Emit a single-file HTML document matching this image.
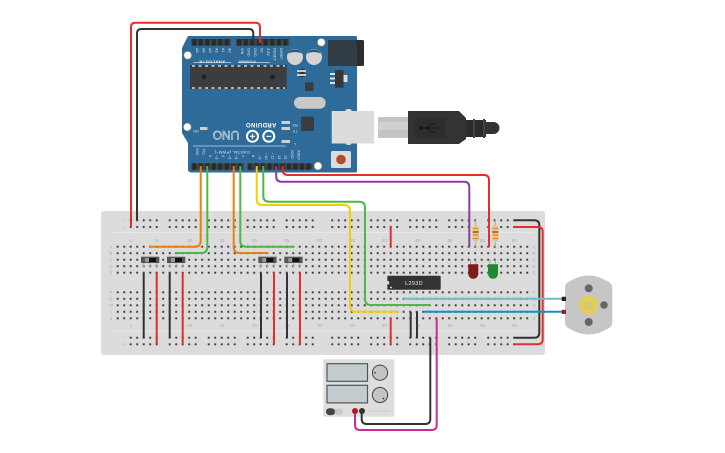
<!DOCTYPE html>
<html><head><meta charset="utf-8"><style>
html,body{margin:0;padding:0;background:#fff}
svg{display:block;filter:blur(.35px)}
text{font-family:"Liberation Sans",sans-serif}
.w{fill:none;stroke-width:2;stroke-linecap:butt;stroke-linejoin:round}
</style></head><body>
<svg width="725" height="453" viewBox="0 0 725 453" xmlns="http://www.w3.org/2000/svg">
<defs>
<pattern id="h" patternUnits="userSpaceOnUse" x="114.45" y="243.45" width="6.5" height="6.5">
<rect x="2.05" y="2.05" width="2.4" height="2.4" fill="#f0f0f0"/><rect x="2.25" y="2.25" width="2" height="2" fill="#3c3c3c"/>
</pattern>
<pattern id="h2" patternUnits="userSpaceOnUse" x="114.45" y="289.05" width="6.5" height="6.5">
<rect x="2.05" y="2.05" width="2.4" height="2.4" fill="#f0f0f0"/><rect x="2.25" y="2.25" width="2" height="2" fill="#3c3c3c"/>
</pattern>
<pattern id="r1" patternUnits="userSpaceOnUse" x="127.45" y="217.05" width="6.5" height="6.7">
<rect x="2.05" y="2.05" width="2.4" height="2.4" fill="#f0f0f0"/><rect x="2.25" y="2.25" width="2" height="2" fill="#3c3c3c"/>
</pattern>
<pattern id="r2" patternUnits="userSpaceOnUse" x="127.45" y="334.45" width="6.5" height="6.6">
<rect x="2.05" y="2.05" width="2.4" height="2.4" fill="#f0f0f0"/><rect x="2.25" y="2.25" width="2" height="2" fill="#3c3c3c"/>
</pattern>
<pattern id="pin" patternUnits="userSpaceOnUse" x="191.05" y="0" width="6.5" height="10">
<rect width="6.5" height="10" fill="#444"/><rect x="1.2" width="4.1" height="10" fill="#2a2a2a"/>
</pattern>
<pattern id="pin2" patternUnits="userSpaceOnUse" x="246.75" y="0" width="6.5" height="10">
<rect width="6.5" height="10" fill="#444"/><rect x="1.2" width="4.1" height="10" fill="#2a2a2a"/>
</pattern>
<pattern id="pin3" patternUnits="userSpaceOnUse" x="236" y="0" width="6.6" height="10">
<rect width="6.6" height="10" fill="#444"/><rect x="1.2" width="4.1" height="10" fill="#2a2a2a"/>
</pattern>
</defs>

<!-- Breadboard -->
<rect x="101" y="211" width="444" height="144" rx="3" fill="#dcdcdc"/>
<path d="M113 232.5H533M113 331H533" stroke="#e6e6e6" stroke-width="1"/>
<rect x="114.5" y="243.5" width="416" height="32.5" fill="url(#h)"/>
<rect x="114.5" y="289" width="416" height="32.5" fill="url(#h2)"/>
<g>
<rect x="127.5" y="217" width="32.5" height="13.4" fill="url(#r1)"/>
<rect x="166.5" y="217" width="32.5" height="13.4" fill="url(#r1)"/>
<rect x="205.5" y="217" width="32.5" height="13.4" fill="url(#r1)"/>
<rect x="244.5" y="217" width="32.5" height="13.4" fill="url(#r1)"/>
<rect x="283.5" y="217" width="32.5" height="13.4" fill="url(#r1)"/>
<rect x="329" y="217" width="32.5" height="13.4" fill="url(#r1)"/>
<rect x="368" y="217" width="32.5" height="13.4" fill="url(#r1)"/>
<rect x="407" y="217" width="32.5" height="13.4" fill="url(#r1)"/>
<rect x="446" y="217" width="32.5" height="13.4" fill="url(#r1)"/>
<rect x="485" y="217" width="32.5" height="13.4" fill="url(#r1)"/>
<rect x="127.5" y="334.5" width="32.5" height="13.2" fill="url(#r2)"/>
<rect x="166.5" y="334.5" width="32.5" height="13.2" fill="url(#r2)"/>
<rect x="205.5" y="334.5" width="32.5" height="13.2" fill="url(#r2)"/>
<rect x="244.5" y="334.5" width="32.5" height="13.2" fill="url(#r2)"/>
<rect x="283.5" y="334.5" width="32.5" height="13.2" fill="url(#r2)"/>
<rect x="329" y="334.5" width="32.5" height="13.2" fill="url(#r2)"/>
<rect x="368" y="334.5" width="32.5" height="13.2" fill="url(#r2)"/>
<rect x="407" y="334.5" width="32.5" height="13.2" fill="url(#r2)"/>
<rect x="446" y="334.5" width="32.5" height="13.2" fill="url(#r2)"/>
<rect x="485" y="334.5" width="32.5" height="13.2" fill="url(#r2)"/>
</g>
<g font-size="4.5" fill="#aaa" text-anchor="middle">
<text x="130.7" y="242">1</text><text x="157" y="242">5</text><text x="189.7" y="242">10</text><text x="222" y="242">15</text><text x="254.5" y="242">20</text><text x="287" y="242">25</text><text x="319.5" y="242">30</text><text x="352.5" y="242">35</text><text x="384.5" y="242">40</text><text x="417.5" y="242">45</text><text x="450" y="242">50</text><text x="482.5" y="242">55</text><text x="514.5" y="242">60</text>
<text x="130.7" y="327">1</text><text x="157" y="327">5</text><text x="189.7" y="327">10</text><text x="222" y="327">15</text><text x="254.5" y="327">20</text><text x="287" y="327">25</text><text x="319.5" y="327">30</text><text x="352.5" y="327">35</text><text x="384.5" y="327">40</text><text x="417.5" y="327">45</text><text x="450" y="327">50</text><text x="482.5" y="327">55</text><text x="514.5" y="327">60</text>
<text x="111" y="248.5">A</text><text x="111" y="255">B</text><text x="111" y="261.5">C</text><text x="111" y="268">D</text><text x="111" y="274.5">E</text>
<text x="111" y="294">F</text><text x="111" y="300.5">G</text><text x="111" y="307">H</text><text x="111" y="313.5">I</text><text x="111" y="320">J</text>
<text x="534" y="248.5">A</text><text x="534" y="255">B</text><text x="534" y="261.5">C</text><text x="534" y="268">D</text><text x="534" y="274.5">E</text>
<text x="534" y="294">F</text><text x="534" y="300.5">G</text><text x="534" y="307">H</text><text x="534" y="313.5">I</text><text x="534" y="320">J</text>
</g>
<g font-size="7" text-anchor="middle">
<text x="123.3" y="223" fill="#a9c6dc">−</text><text x="123.3" y="230" fill="#eba9a5">+</text>
<text x="123.3" y="340" fill="#a9c6dc">−</text><text x="123.3" y="347" fill="#eba9a5">+</text>
</g>

<!-- Arduino -->
<path d="M188 36H355.5a1.5 1.5 0 0 1 1.5 1.5V171a1.5 1.5 0 0 1-1.5 1.5H191a3 3 0 0 1-3-3V143l-6-10V48Z" fill="#2f6b99"/>
<rect x="191.3" y="39" width="39.4" height="6.7" fill="url(#pin)"/>
<rect x="236" y="39" width="53.3" height="6.7" fill="url(#pin3)"/>
<rect x="191.3" y="163.3" width="52.7" height="6.5" fill="url(#pin)"/>
<rect x="247.3" y="163.3" width="65.4" height="6.5" fill="url(#pin2)"/>
<g fill="#fff">
<circle cx="187.7" cy="55.3" r="3.8" stroke="#b9a878" stroke-width=".6"/><circle cx="321.3" cy="42.3" r="3.8" stroke="#b9a878" stroke-width=".6"/>
<circle cx="187.3" cy="127" r="3.8" stroke="#b9a878" stroke-width=".6"/><circle cx="318" cy="166" r="3.8" stroke="#b9a878" stroke-width=".6"/>
</g>
<!-- chip -->
<rect x="190" y="65" width="96.7" height="24" fill="#3b3d40"/>
<path d="M192 66H285M192 88H285" stroke="#d8d8d8" stroke-width="1.4" stroke-dasharray="3 3.5"/>
<circle cx="204" cy="77" r="2.5" fill="#222"/><circle cx="272.5" cy="77" r="2.5" fill="#222"/>
<!-- caps -->
<circle cx="295" cy="57" r="8" fill="#d4d4d4"/><path d="M288 53.500a8 8 0 0 1 14 0q-7 -3 -14 0Z" fill="#24567f"/>
<circle cx="314" cy="57" r="8" fill="#d4d4d4"/><path d="M307 53.500a8 8 0 0 1 14 0q-7 -3 -14 0Z" fill="#24567f"/>
<!-- jack -->
<rect x="328" y="40" width="36" height="26" rx="1.5" fill="#2b2d2f"/>
<rect x="328" y="40" width="29" height="26" rx="3" fill="#323c44"/>
<!-- regulator etc -->
<rect x="335" y="70" width="8.5" height="17.7" fill="#353739"/>
<path d="M330 73h5v2h-5ZM330 77.500h5v2h-5ZM330 82h5v2h-5Z" fill="#ddd"/>
<rect x="343.500" y="75" width="4" height="7" fill="#ddd"/>
<rect x="299.500" y="69" width="5" height="8" fill="#333"/><path d="M297 70h9v2h-9ZM297 74h9v2h-9Z" fill="#ccc"/>
<rect x="305" y="82.300" width="8.600" height="8.700" rx="1" fill="#3a3d40"/>
<rect x="294" y="97" width="31.700" height="11.700" rx="5.800" fill="#c9c9c9"/>
<rect x="301" y="116.700" width="13" height="14.300" rx="1" fill="#3a3d40"/>
<path d="M281.500 121h8.500v3h-8.500ZM281.500 127h8.500v3h-8.500ZM281.500 140h8.500v3h-8.500Z" fill="#d0d0d0"/>
<path d="M200 127h7.500v3H200Z" fill="#d0d0d0"/>
<text x="0" y="0" font-size="3.500" fill="#e4ecf2" text-anchor="middle" transform="translate(196,130) rotate(180)">ON</text>
<g font-size="3.500" fill="#e4ecf2" text-anchor="middle">
<text transform="translate(295,124) rotate(180)">RX</text><text transform="translate(295,130) rotate(180)">TX</text><text transform="translate(295,143) rotate(180)">L</text>
</g>
<!-- logo -->
<g fill="none" stroke="#fff" stroke-width="2">
<circle cx="252.500" cy="136.300" r="5.500"/><circle cx="268.800" cy="136.300" r="5.500"/>
</g>
<path d="M250 136.300h5M252.500 133.800v5M266.300 136.300h5" stroke="#fff" stroke-width="1.100"/>
<text transform="translate(261,123) rotate(180)" font-size="6" font-weight="bold" fill="#fff" text-anchor="middle" letter-spacing=".4">ARDUINO</text>
<text transform="translate(226,131) rotate(180)" font-size="12" fill="#2f6b99" stroke="#eef3f7" stroke-width=".5" text-anchor="middle">UNO</text>
<!-- labels -->
<path d="M193 146H285.700M193.500 62.500H231M238 62.500H270" stroke="#c7d7e4" stroke-width=".7"/>
<text transform="translate(212,60.500) rotate(180)" font-size="4" font-weight="bold" fill="#e4ecf2" text-anchor="middle" letter-spacing=".4">ANALOG IN</text>
<text transform="translate(247,60.500) rotate(180)" font-size="4" font-weight="bold" fill="#e4ecf2" text-anchor="middle" letter-spacing=".4">POWER</text>
<text transform="translate(232,151) rotate(180)" font-size="4" fill="#e4ecf2" text-anchor="middle" letter-spacing=".3">DIGITAL (PWM~)</text>
<g font-size="3.800" fill="#e4ecf2" text-anchor="start">
<text transform="translate(196,48) rotate(90)">A5</text><text transform="translate(202.500,48) rotate(90)">A4</text><text transform="translate(209,48) rotate(90)">A3</text><text transform="translate(215.500,48) rotate(90)">A2</text><text transform="translate(222,48) rotate(90)">A1</text><text transform="translate(228.500,48) rotate(90)">A0</text>
<text transform="translate(241,48) rotate(90)">VIN</text><text transform="translate(247.500,48) rotate(90)">GND</text><text transform="translate(254,48) rotate(90)">GND</text><text transform="translate(260.500,48) rotate(90)">5V</text><text transform="translate(267,48) rotate(90)">3.3V</text><text transform="translate(273.500,48) rotate(90)">RESET</text><text transform="translate(280,48) rotate(90)">IOREF</text>
<text transform="translate(196,148) rotate(90)">RX0</text><text transform="translate(202.500,148) rotate(90)">TX1</text><text transform="translate(209,155) rotate(90)">2</text><text transform="translate(215.500,155) rotate(90)">~3</text><text transform="translate(222,155) rotate(90)">4</text><text transform="translate(228.500,155) rotate(90)">~5</text><text transform="translate(235,155) rotate(90)">~6</text><text transform="translate(241.500,155) rotate(90)">7</text>
<text transform="translate(252,155) rotate(90)">8</text><text transform="translate(258.500,155) rotate(90)">~9</text><text transform="translate(265,153) rotate(90)">~10</text><text transform="translate(271.500,153) rotate(90)">~11</text><text transform="translate(278,155) rotate(90)">12</text><text transform="translate(284.500,155) rotate(90)">13</text><text transform="translate(291,150) rotate(90)">GND</text><text transform="translate(297.500,150) rotate(90)">AREF</text>
</g>
<!-- reset -->
<rect x="331" y="151" width="20" height="17" rx="1.500" fill="#dcdcdc"/><circle cx="341" cy="159.500" r="4.800" fill="#b04a2c"/>

<!-- USB -->
<rect x="378" y="117" width="31" height="21" fill="#c4c4c4"/><rect x="378" y="122" width="31" height="8" fill="#d0d0d0"/>
<rect x="345" y="109" width="7" height="36" rx="3" fill="#dcdcdc"/>
<rect x="331.700" y="111" width="42.300" height="32.500" fill="#dcdcdc"/>
<path d="M408 111H459L466 118V139L459 144H408Z" fill="#333"/>
<rect x="414" y="118" width="31" height="20" fill="#2d2d2d"/>
<path d="M421 128h18M427 128l4-4h4M427 128l4 4h4" stroke="#151515" stroke-width="1" fill="none"/><circle cx="421" cy="128" r="2" fill="#151515"/>
<path d="M466 120H486V137H466Z" fill="#2b2b2b"/><path d="M473 119h2v19h-2ZM483 119h2v19h-2Z" fill="#444"/>
<path d="M485 122H493.500a6 6 0 0 1 0 12H485Z" fill="#333"/>

<!-- Power supply -->
<rect x="323.300" y="359.300" width="71" height="57.400" rx="1.500" fill="#dedede"/>
<rect x="327" y="363.700" width="40.500" height="17.600" fill="#c3cdd0" stroke="#555" stroke-width="1.200"/>
<rect x="327" y="385.300" width="40.500" height="17.600" fill="#c3cdd0" stroke="#555" stroke-width="1.200"/>
<circle cx="380" cy="372.700" r="7.600" fill="#c4c4c4" stroke="#444" stroke-width="1"/><circle cx="375" cy="372.700" r=".8" fill="#222"/>
<circle cx="380" cy="395" r="7.600" fill="#c4c4c4" stroke="#444" stroke-width="1"/><circle cx="383.500" cy="398.500" r=".8" fill="#222"/>
<rect x="330" y="408.700" width="13" height="6" rx="3" fill="#c9c9c9"/><rect x="326" y="408.300" width="9" height="6.800" rx="3.400" fill="#444"/>
<text x="380" y="412" font-size="3" fill="#c4c4c4" text-anchor="middle">POWER SUPPLY</text>

<!-- switches -->
<g>
<rect x="141" y="256.700" width="18.300" height="6.300" fill="#555"/><rect x="145" y="258" width="4" height="4" fill="#999"/><rect x="149" y="258" width="7" height="4" fill="#111"/>
<rect x="167" y="256.700" width="18.300" height="6.300" fill="#555"/><rect x="171" y="258" width="4" height="4" fill="#999"/><rect x="175" y="258" width="7" height="4" fill="#111"/>
<rect x="258.300" y="256.700" width="18.300" height="6.300" fill="#555"/><rect x="262.300" y="258" width="4" height="4" fill="#999"/><rect x="266.300" y="258" width="7" height="4" fill="#111"/>
<rect x="284.300" y="256.700" width="18.300" height="6.300" fill="#555"/><rect x="288.300" y="258" width="4" height="4" fill="#999"/><rect x="292.300" y="258" width="7" height="4" fill="#111"/>
</g>
<path d="M143.700 263v4M150.200 263v4M156.700 263v4M169.700 263v4M176.200 263v4M182.700 263v4M261 263v4M267.500 263v4M274 263v4M287 263v4M293.500 263v4M300 263v4" stroke="#aaa" stroke-width="1"/>

<!-- IC -->
<rect x="387.300" y="275.700" width="53.400" height="14" rx="1" fill="#333"/>
<circle cx="387.500" cy="282.700" r="1.800" fill="#dcdcdc"/><circle cx="391" cy="287.500" r=".9" fill="#eee"/>
<text x="414" y="284.800" font-size="5.500" fill="#e8e8e8" text-anchor="middle" letter-spacing=".3">L293D</text>

<!-- resistors & LEDs -->
<path d="M475.700 220V247M495.300 220V247" stroke="#aaa" stroke-width="1"/>
<g>
<rect x="472.700" y="225" width="6" height="16.700" rx="2.500" fill="#e6c690"/>
<path d="M472.700 228.500h6M472.700 232h6M472.700 235h6M472.700 238.500h6" stroke="#e88c1c" stroke-width="1.200"/><path d="M472.700 232h6" stroke="#7a4a1e" stroke-width="1.200"/>
<rect x="492.300" y="225" width="6" height="16.700" rx="2.500" fill="#e6c690"/>
<path d="M492.300 228.500h6M492.300 232h6M492.300 235h6M492.300 238.500h6" stroke="#e88c1c" stroke-width="1.200"/><path d="M492.300 232h6" stroke="#7a4a1e" stroke-width="1.200"/>
</g>
<path d="M470.500 259.500V265M476 259.500V265M490 259.500V265M495.500 259.500V265" stroke="#aaa" stroke-width="1"/>
<path d="M468.300 264.300h10v9.500a5 5 0 0 1-10 0Z" fill="#7e1b1d"/>
<path d="M488 264.300h10v9.500a5 5 0 0 1-10 0Z" fill="#1e8a2f"/>

<!-- Wires -->
<path class="w" stroke="#ea2b2b" d="M260 43V27Q260 22.700 255.500 22.700H135.500Q131 22.700 131 27V227"/>
<path class="w" stroke="#333" d="M253.300 43V33.500Q253.300 29 249 29H141.500Q137 29 137 33.500V220.500"/>
<path class="w" stroke="#e8820c" d="M200.700 166V241Q200.700 246.700 195 246.700H149.300"/>
<path class="w" stroke="#4cb848" d="M207.300 166V247Q207.300 253 201 253H175.700"/>
<path class="w" stroke="#e8820c" d="M233.700 166V247Q233.700 253 240 253H268.300"/>
<path class="w" stroke="#4cb848" d="M240.300 166V241Q240.300 246.700 246 246.700H294.300"/>
<path class="w" stroke="#f2d000" d="M256.700 166V199Q256.700 205 262.500 205H344Q350 205 350 211V305.500Q350 311.700 356 311.700H398.300"/>
<path class="w" stroke="#4cb848" d="M263.300 166V196Q263.300 201.700 269 201.700H359Q365 201.700 365 207.500V299Q365 305 371 305H431"/>
<path class="w" stroke="#8a3f9e" d="M276.200 166V176.500Q276.200 181.700 281.500 181.700H464Q469.300 181.700 469.300 187V247"/>
<path class="w" stroke="#ea2b2b" d="M282.700 166V170Q282.700 175 288 175H484Q489 175 489 180V247"/>
<g stroke="#333">
<path class="w" d="M143.700 272.700V338M169.700 272.700V338M261 272.700V338M287 272.700V338"/>
<path class="w" d="M410.700 311.700V338M417 311.700V338"/>
<path class="w" d="M514.300 220.300H534.300Q539.300 220.300 539.300 225.300V332.700Q539.300 337.700 534.300 337.700H514.300"/>
<path class="w" d="M430.300 337.700V419Q430.300 424 425.300 424H366.700Q361.700 424 361.700 419V411"/>
</g>
<g stroke="#ea2b2b">
<path class="w" d="M156.700 272.700V344.500M182.700 272.700V344.500M274 272.700V344.500M300 272.700V344.500"/>
<path class="w" d="M390.700 226.500V247M390.700 318V344.500"/>
<path class="w" d="M514.300 227H537.700Q542.700 227 542.700 232V339.300Q542.700 344.300 537.700 344.300H514.300"/>
</g>
<path class="w" stroke="#d12a8c" d="M436.700 318.300V425Q436.700 430 431.700 430H360Q355 430 355 425V411"/>
<path class="w" stroke="#6fbccb" d="M403.300 298.700H561.700"/>
<path class="w" stroke="#1090c8" d="M423.300 311.700H561.700"/>

<circle cx="355" cy="411" r="3" fill="#b2182b"/><circle cx="362" cy="411" r="3" fill="#333"/>

<!-- Motor -->
<path d="M565 288Q565 283 570 281Q588.700 270 607 281Q612.300 283 612.300 288V322Q612.300 327 607 329Q588.700 340 570 329Q565 327 565 322Z" fill="#c6c6c6"/>
<rect x="561.700" y="296.700" width="4.300" height="4.300" rx=".6" fill="#222"/>
<rect x="561.700" y="309.700" width="4.300" height="4.300" rx=".6" fill="#a01818"/>
<circle cx="588.700" cy="288.300" r="4" fill="#666"/><circle cx="588.700" cy="322" r="4" fill="#666"/><circle cx="604" cy="305" r="3.800" fill="#666"/>
<circle cx="588.700" cy="305" r="9" fill="none" stroke="#ecd03c" stroke-width="2.500" stroke-dasharray="2.400 2.320"/>
<circle cx="588.700" cy="305" r="7.500" fill="#ecd03c"/>
<circle cx="588.700" cy="305" r="4.800" fill="#d3c77a"/>
</svg>
</body></html>
